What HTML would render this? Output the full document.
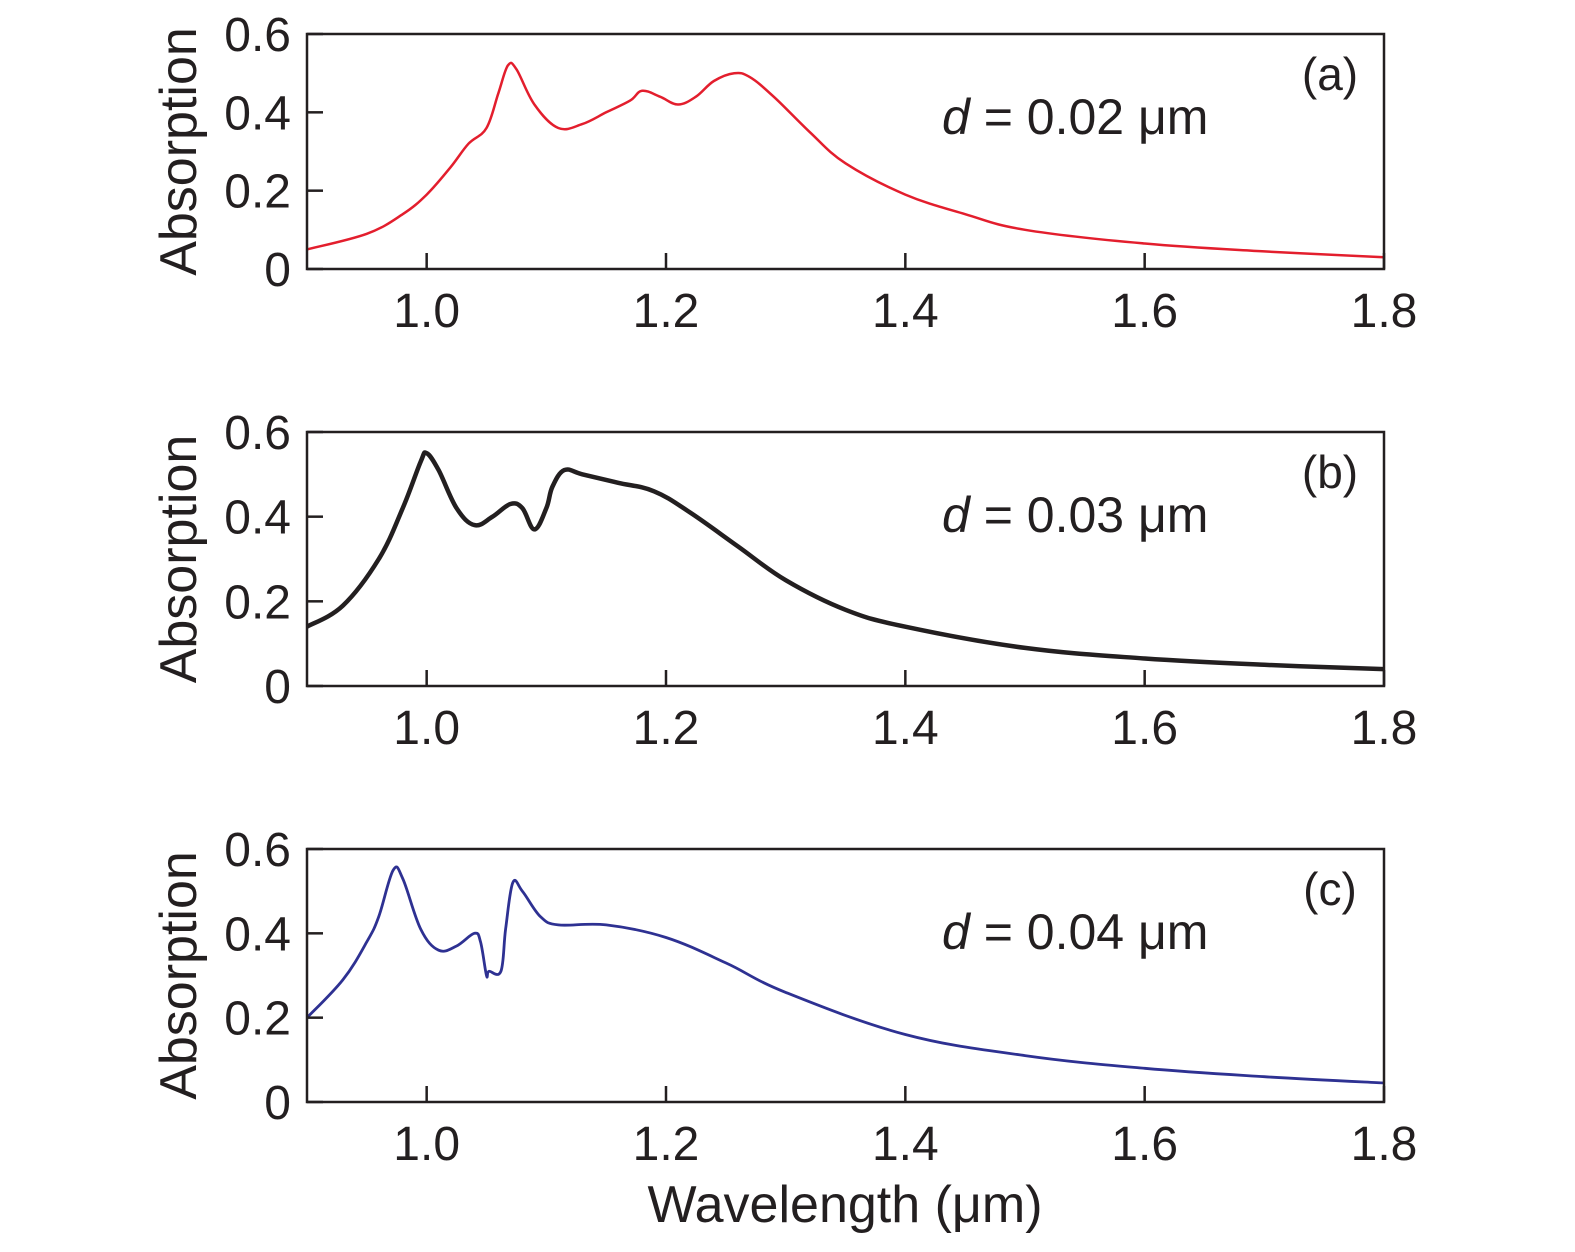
<!DOCTYPE html>
<html><head><meta charset="utf-8"><style>
body{margin:0;background:#fff;}
svg text{font-family:"Liberation Sans","DejaVu Sans",sans-serif;fill:#231f20;}
</style></head><body>
<svg id="fig" width="1575" height="1247" viewBox="0 0 1575 1247" xmlns="http://www.w3.org/2000/svg"></svg>
<script>
const xTicks=[1.0,1.2,1.4,1.6,1.8];
const xTickLabels=["1.0","1.2","1.4","1.6","1.8"];
const yTicks=[0,0.2,0.4,0.6];
const yTickLabels=["0","0.2","0.4","0.6"];
const panelLabels=["(a)","(b)","(c)"];
const thicknessLabels=["0.02","0.03","0.04"];
const wlA=[0.90,0.95,0.98,1.00,1.02,1.035,1.05,1.06,1.068,1.075,1.09,1.11,1.13,1.15,1.17,1.18,1.195,1.21,1.225,1.24,1.257,1.27,1.29,1.32,1.35,1.40,1.45,1.50,1.60,1.70,1.80];
const absA=[0.05,0.09,0.14,0.19,0.26,0.32,0.36,0.45,0.52,0.51,0.42,0.36,0.37,0.40,0.43,0.455,0.44,0.42,0.44,0.48,0.50,0.49,0.44,0.35,0.27,0.19,0.14,0.10,0.065,0.045,0.03];
const wlB=[0.90,0.93,0.96,0.98,0.995,1.00,1.01,1.025,1.04,1.055,1.07,1.08,1.09,1.10,1.105,1.115,1.13,1.16,1.19,1.22,1.26,1.30,1.35,1.40,1.50,1.60,1.70,1.80];
const absB=[0.14,0.19,0.30,0.42,0.53,0.55,0.51,0.42,0.38,0.40,0.43,0.42,0.37,0.42,0.47,0.51,0.50,0.48,0.46,0.41,0.33,0.25,0.18,0.14,0.09,0.065,0.05,0.04];
const wlC=[0.90,0.93,0.95,0.96,0.972,0.98,0.995,1.01,1.025,1.04,1.045,1.05,1.052,1.062,1.066,1.072,1.08,1.095,1.11,1.15,1.20,1.25,1.30,1.40,1.50,1.60,1.70,1.80];
const absC=[0.20,0.29,0.38,0.44,0.55,0.53,0.41,0.36,0.37,0.40,0.38,0.30,0.31,0.31,0.41,0.52,0.50,0.44,0.42,0.42,0.39,0.33,0.26,0.16,0.11,0.08,0.06,0.045];

const svg=document.getElementById('fig');
const NS='http://www.w3.org/2000/svg';
function mk(tag,attrs,parent){const e=document.createElementNS(NS,tag);for(const k in attrs)e.setAttribute(k,attrs[k]);(parent||svg).appendChild(e);return e;}
const X0=307,X1=1384;
function xs(w){return X0+(w-0.9)/(0.9)*(X1-X0);}
function smooth(pts){
 let d='M'+pts[0][0].toFixed(1)+','+pts[0][1].toFixed(1);
 for(let i=0;i<pts.length-1;i++){
  const p0=pts[Math.max(0,i-1)],p1=pts[i],p2=pts[i+1],p3=pts[Math.min(pts.length-1,i+2)];
  const t=0.18;
  const c1=[p1[0]+(p2[0]-p0[0])*t,p1[1]+(p2[1]-p0[1])*t];
  const c2=[p2[0]-(p3[0]-p1[0])*t,p2[1]-(p3[1]-p1[1])*t];
  c1[0]=Math.min(Math.max(c1[0],p1[0]),p2[0]);c2[0]=Math.min(Math.max(c2[0],p1[0]),p2[0]);
  d+=' C'+c1[0].toFixed(1)+','+c1[1].toFixed(1)+' '+c2[0].toFixed(1)+','+c2[1].toFixed(1)+' '+p2[0].toFixed(1)+','+p2[1].toFixed(1);
 }
 return d;
}
const panels=[
 {top:34,bot:269,wl:wlA,ab:absA,color:'#e31e2d',sw:2.5,name:'a'},
 {top:432,bot:686,wl:wlB,ab:absB,color:'#231f20',sw:4.5,name:'b'},
 {top:849,bot:1102,wl:wlC,ab:absC,color:'#2e3192',sw:2.8,name:'c'}];
panels.forEach((p,i)=>{
 const g=mk('g',{});
 
 
 const ys=v=>p.bot-v/0.6*(p.bot-p.top);
 const pts=p.wl.map((w,j)=>[xs(w),ys(p.ab[j])]);
 const line=mk('path',{d:smooth(pts),fill:'none',stroke:p.color,'stroke-width':p.sw,'stroke-linejoin':'round'},g);
 
 
 const box=mk('rect',{x:X0,y:p.top,width:X1-X0,height:p.bot-p.top,fill:'none',stroke:'#231f20','stroke-width':2.5},g);
 
 
 xTicks.forEach((t,k)=>{
  mk('line',{x1:xs(t),x2:xs(t),y1:p.bot,y2:p.bot-16,stroke:'#231f20','stroke-width':2.5},g);
  const tx=mk('text',{x:xs(t),y:p.bot+58,'font-size':48,'text-anchor':'middle'},g);
  tx.textContent=xTickLabels[k];
  
  
 });
 yTicks.forEach((t,k)=>{
  mk('line',{x1:X0,x2:X0+16,y1:ys(t),y2:ys(t),stroke:'#231f20','stroke-width':2.5},g);
  const tx=mk('text',{x:291,y:ys(t)+17,'font-size':48,'text-anchor':'end'},g);
  tx.textContent=yTickLabels[k];
  
  
 });
 const yl=mk('text',{x:0,y:0,'font-size':52,'text-anchor':'middle',transform:`translate(196,${(p.top+p.bot)/2}) rotate(-90)`},g);
 yl.textContent='Absorption';
 
 
 const pl=mk('text',{x:1330,y:p.top+56,'font-size':46,'text-anchor':'middle'},g);
 pl.textContent=panelLabels[i];
 
 
 const an=mk('text',{x:942,y:p.top+100,'font-size':50},g);
 an.innerHTML='<tspan font-style="italic">d</tspan> = '+thicknessLabels[i]+' μm';
 
 
});
const xt=mk('text',{x:845,y:1222,'font-size':52,'text-anchor':'middle'});
xt.textContent='Wavelength (μm)';


</script>
</body></html>
